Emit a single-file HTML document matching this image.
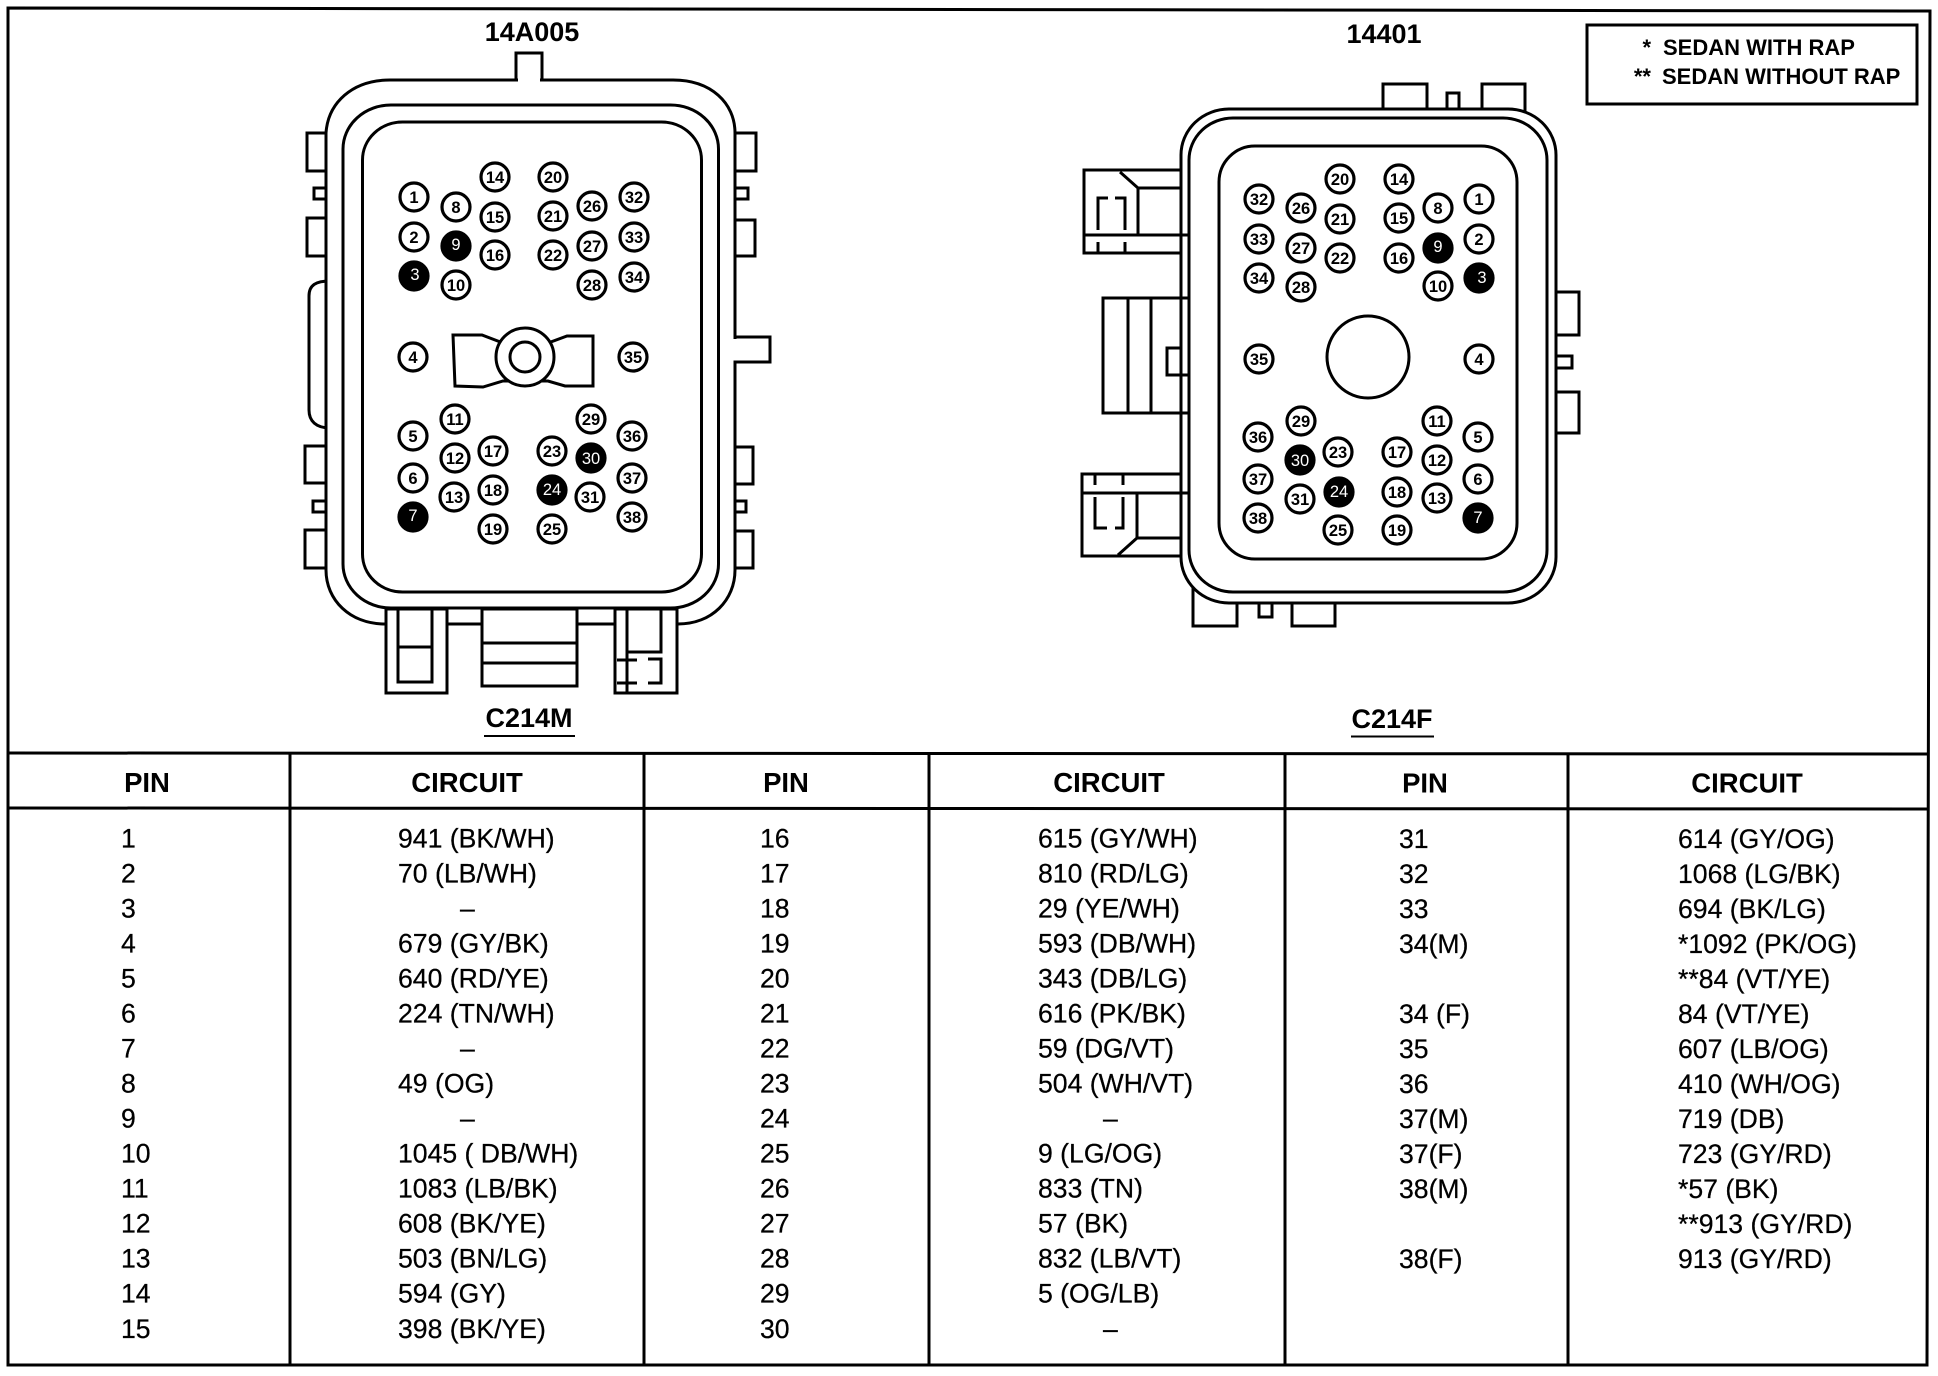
<!DOCTYPE html>
<html><head><meta charset="utf-8"><title>C214M / C214F</title>
<style>
html,body{margin:0;padding:0;background:#fff}
svg{display:block}
text{font-family:"Liberation Sans",sans-serif;fill:#000}
.l{fill:#fff;stroke:#000;stroke-width:3}
.n{fill:none;stroke:#000;stroke-width:3}
.pins circle{fill:#fff;stroke:#000;stroke-width:3.2}
.pins text{font-size:16.5px;font-weight:bold;text-anchor:middle}
.pins .k circle{fill:#000}
.pins .k text{fill:#fff;font-weight:normal}
.t text{font-size:26.6px;stroke:#000;stroke-width:.25}
.h{font-size:27.5px;font-weight:bold;text-anchor:middle}
.ti{font-size:27px;font-weight:bold;text-anchor:middle}
.lg{font-size:22px;font-weight:bold}
</style></head><body>
<svg xmlns="http://www.w3.org/2000/svg" width="1938" height="1376" viewBox="0 0 1938 1376">
<rect width="1938" height="1376" fill="#fff"/>

<!-- frame -->
<path class="n" d="M8 8 L1930 11 L1927 1365 L8 1365 Z"/>
<path class="n" d="M8 753 L1928 754 M8 808 L1928 809"/>
<path class="n" d="M290 753V1365 M644 753V1365 M929 753V1365 M1285 754V1365 M1568 754V1365"/>

<!-- titles -->
<text class="ti" x="532" y="41">14A005</text>
<text class="ti" x="1384" y="43">14401</text>
<text class="ti" x="529" y="727">C214M</text>
<text class="ti" x="1392" y="728">C214F</text>
<path d="M484 736H575M1351 736.500H1434" stroke="#000" stroke-width="2" fill="none"/>

<!-- legend -->
<rect class="n" x="1587" y="25" width="330" height="79"/>
<text class="lg" x="1651" y="55" text-anchor="end">*</text>
<text class="lg" x="1663" y="55">SEDAN WITH RAP</text>
<text class="lg" x="1651" y="84" text-anchor="end">**</text>
<text class="lg" x="1662" y="84">SEDAN WITHOUT RAP</text>

<!-- LEFT CONNECTOR -->
<g>
<rect class="l" x="307" y="133" width="24" height="38"/>
<rect class="l" x="314" y="188" width="15" height="11"/>
<rect class="l" x="307" y="218" width="24" height="38"/>
<path class="l" d="M330 281 C316 281 309 285 309 296 V410 C309 421 316 428 330 428 Z"/>
<rect class="l" x="305" y="446" width="24" height="37"/>
<rect class="l" x="313" y="501" width="15" height="11"/>
<rect class="l" x="305" y="530" width="24" height="38"/>
<rect class="l" x="730" y="133" width="26" height="38"/>
<rect class="l" x="730" y="188" width="18" height="11"/>
<rect class="l" x="730" y="220" width="25" height="36"/>
<path class="l" d="M730 337H770V362H730Z"/>
<rect class="l" x="728" y="447" width="25" height="37"/>
<rect class="l" x="728" y="501" width="18" height="11"/>
<rect class="l" x="728" y="531" width="25" height="37"/>
<rect class="l" x="516" y="53" width="26" height="40"/>
<path class="l" d="M390 80 H673 C711 80 735 103 735 133 V570 C735 600 712 624 678 624 H385 C350 624 326 600 326 570 V133 C328 103 352 80 390 80 Z"/>
<rect fill="#fff" x="518" y="78" width="22" height="5"/>
<rect fill="#fff" x="732" y="339" width="7" height="21.500"/>
<rect class="n" x="343" y="105" width="375.500" height="503" rx="48" ry="44"/>
<rect class="n" x="362.500" y="122" width="339" height="470" rx="40" ry="38"/>
<!-- bottom boxes -->
<path class="l" d="M386 609H447V693H386Z"/>
<path class="l" d="M398 609H432V682H398Z"/>
<path class="n" d="M398 647H432"/>
<path class="l" d="M482 609H577V686H482Z"/>
<path class="n" d="M482 643H577M482 663H577"/>
<path class="l" d="M615 609H677V693H615Z"/>
<path class="n" d="M627 609V693M661 609V652H627"/>
<path class="n" d="M617 660H637M648 659H661V683H648M637 683H617"/>
<!-- center key -->
<path class="l" d="M453 335 H482 L503 343 H548 L567 336 H593 V386 H565 L548 381 H503 L483 387 L455 386 Z"/>
<circle class="l" cx="525" cy="357" r="29"/>
<circle class="n" cx="525" cy="357" r="15"/>
</g>
<g class="pins">
<g><circle cx="414" cy="197" r="14"/><text x="414" y="203">1</text></g>
<g><circle cx="456" cy="207" r="14"/><text x="456" y="213">8</text></g>
<g><circle cx="495" cy="177" r="14"/><text x="495" y="183">14</text></g>
<g><circle cx="495" cy="217" r="14"/><text x="495" y="223">15</text></g>
<g><circle cx="414" cy="237" r="14"/><text x="414" y="243">2</text></g>
<g class="k"><circle cx="456" cy="246" r="14"/><text x="456" y="250">9</text></g>
<g><circle cx="495" cy="255" r="14"/><text x="495" y="261">16</text></g>
<g class="k"><circle cx="414" cy="276" r="14"/><text x="415" y="280">3</text></g>
<g><circle cx="456" cy="285" r="14"/><text x="456" y="291">10</text></g>
<g><circle cx="553" cy="177" r="14"/><text x="553" y="183">20</text></g>
<g><circle cx="553" cy="216" r="14"/><text x="553" y="222">21</text></g>
<g><circle cx="553" cy="255" r="14"/><text x="553" y="261">22</text></g>
<g><circle cx="592" cy="206" r="14"/><text x="592" y="212">26</text></g>
<g><circle cx="592" cy="246" r="14"/><text x="592" y="252">27</text></g>
<g><circle cx="592" cy="285" r="14"/><text x="592" y="291">28</text></g>
<g><circle cx="634" cy="197" r="14"/><text x="634" y="203">32</text></g>
<g><circle cx="634" cy="237" r="14"/><text x="634" y="243">33</text></g>
<g><circle cx="634" cy="277" r="14"/><text x="634" y="283">34</text></g>
<g><circle cx="413" cy="357" r="14"/><text x="413" y="363">4</text></g>
<g><circle cx="633" cy="357" r="14"/><text x="633" y="363">35</text></g>
<g><circle cx="455" cy="419" r="14"/><text x="455" y="425">11</text></g>
<g><circle cx="413" cy="436" r="14"/><text x="413" y="442">5</text></g>
<g><circle cx="455" cy="458" r="14"/><text x="455" y="464">12</text></g>
<g><circle cx="413" cy="478" r="14"/><text x="413" y="484">6</text></g>
<g><circle cx="454" cy="497" r="14"/><text x="454" y="503">13</text></g>
<g class="k"><circle cx="413" cy="517" r="14"/><text x="413" y="521">7</text></g>
<g><circle cx="493" cy="451" r="14"/><text x="493" y="457">17</text></g>
<g><circle cx="493" cy="490" r="14"/><text x="493" y="496">18</text></g>
<g><circle cx="493" cy="529" r="14"/><text x="493" y="535">19</text></g>
<g><circle cx="552" cy="451" r="14"/><text x="552" y="457">23</text></g>
<g class="k"><circle cx="552" cy="490" r="14"/><text x="552" y="495">24</text></g>
<g><circle cx="552" cy="529" r="14"/><text x="552" y="535">25</text></g>
<g><circle cx="591" cy="419" r="14"/><text x="591" y="425">29</text></g>
<g class="k"><circle cx="591" cy="458" r="14"/><text x="591" y="464">30</text></g>
<g><circle cx="590" cy="497" r="14"/><text x="590" y="503">31</text></g>
<g><circle cx="632" cy="436" r="14"/><text x="632" y="442">36</text></g>
<g><circle cx="632" cy="478" r="14"/><text x="632" y="484">37</text></g>
<g><circle cx="632" cy="517" r="14"/><text x="632" y="523">38</text></g>
</g>

<!-- RIGHT CONNECTOR -->
<g>
<rect class="l" x="1383" y="84" width="44" height="30"/>
<rect class="l" x="1447" y="93" width="12" height="20"/>
<rect class="l" x="1482" y="84" width="43" height="30"/>
<rect class="l" x="1550" y="292" width="29" height="43"/>
<rect class="l" x="1550" y="356" width="22" height="12"/>
<rect class="l" x="1550" y="392" width="29" height="41"/>
<rect class="l" x="1193" y="580" width="44" height="46"/>
<rect class="l" x="1259" y="590" width="13" height="27"/>
<rect class="l" x="1292" y="590" width="43" height="36"/>
<!-- upper latch -->
<path class="l" d="M1084 170H1185V253H1084Z"/>
<path class="n" d="M1084 235H1185M1120 172L1138 188V235M1138 188H1185"/>
<path class="n" d="M1098 230V198H1108M1115 198H1125V230M1098 242V253M1125 242V253"/>
<!-- middle latch -->
<path class="l" d="M1103 298H1185V413H1103Z"/>
<path class="n" d="M1128 298V413M1151 298V413"/>
<!-- lower latch -->
<path class="l" d="M1082 474H1185V556H1082Z"/>
<path class="n" d="M1082 493H1185M1137 493V538H1185M1137 538L1118 555"/>
<path class="n" d="M1095 475V485M1123 475V485M1095 497V528H1107M1115 528H1123V497"/>
<rect class="l" x="1181" y="109" width="375" height="494" rx="48" ry="46"/>
<rect class="n" x="1189" y="118" width="358" height="474" rx="44" ry="42"/>
<rect class="n" x="1219" y="146" width="298" height="413" rx="36" ry="36"/>
<circle class="n" cx="1368" cy="357" r="41"/>
<!-- latch edges crossing the shell -->
<path class="n" d="M1181 235H1190M1181 298H1189M1181 413H1189M1181 493H1190"/>
<path class="n" d="M1181 348H1167V375H1189"/>
</g>
<g class="pins">
<g><circle cx="1259" cy="199" r="14"/><text x="1259" y="205">32</text></g>
<g><circle cx="1301" cy="208" r="14"/><text x="1301" y="214">26</text></g>
<g><circle cx="1340" cy="179" r="14"/><text x="1340" y="185">20</text></g>
<g><circle cx="1340" cy="219" r="14"/><text x="1340" y="225">21</text></g>
<g><circle cx="1259" cy="239" r="14"/><text x="1259" y="245">33</text></g>
<g><circle cx="1301" cy="248" r="14"/><text x="1301" y="254">27</text></g>
<g><circle cx="1340" cy="258" r="14"/><text x="1340" y="264">22</text></g>
<g><circle cx="1259" cy="278" r="14"/><text x="1259" y="284">34</text></g>
<g><circle cx="1301" cy="287" r="14"/><text x="1301" y="293">28</text></g>
<g><circle cx="1399" cy="179" r="14"/><text x="1399" y="185">14</text></g>
<g><circle cx="1399" cy="218" r="14"/><text x="1399" y="224">15</text></g>
<g><circle cx="1399" cy="258" r="14"/><text x="1399" y="264">16</text></g>
<g><circle cx="1438" cy="208" r="14"/><text x="1438" y="214">8</text></g>
<g class="k"><circle cx="1438" cy="248" r="14"/><text x="1438" y="252">9</text></g>
<g><circle cx="1438" cy="286" r="14"/><text x="1438" y="292">10</text></g>
<g><circle cx="1479" cy="199" r="14"/><text x="1479" y="205">1</text></g>
<g><circle cx="1479" cy="239" r="14"/><text x="1479" y="245">2</text></g>
<g class="k"><circle cx="1479" cy="278" r="14"/><text x="1482" y="283">3</text></g>
<g><circle cx="1259" cy="359" r="14"/><text x="1259" y="365">35</text></g>
<g><circle cx="1479" cy="359" r="14"/><text x="1479" y="365">4</text></g>
<g><circle cx="1301" cy="421" r="14"/><text x="1301" y="427">29</text></g>
<g><circle cx="1258" cy="437" r="14"/><text x="1258" y="443">36</text></g>
<g><circle cx="1437" cy="421" r="14"/><text x="1437" y="427">11</text></g>
<g><circle cx="1478" cy="437" r="14"/><text x="1478" y="443">5</text></g>
<g class="k"><circle cx="1300" cy="460" r="14"/><text x="1300" y="466">30</text></g>
<g><circle cx="1338" cy="452" r="14"/><text x="1338" y="458">23</text></g>
<g><circle cx="1397" cy="452" r="14"/><text x="1397" y="458">17</text></g>
<g><circle cx="1437" cy="460" r="14"/><text x="1437" y="466">12</text></g>
<g><circle cx="1258" cy="479" r="14"/><text x="1258" y="485">37</text></g>
<g><circle cx="1478" cy="479" r="14"/><text x="1478" y="485">6</text></g>
<g><circle cx="1300" cy="499" r="14"/><text x="1300" y="505">31</text></g>
<g class="k"><circle cx="1339" cy="492" r="14"/><text x="1339" y="497">24</text></g>
<g><circle cx="1397" cy="492" r="14"/><text x="1397" y="498">18</text></g>
<g><circle cx="1437" cy="498" r="14"/><text x="1437" y="504">13</text></g>
<g><circle cx="1258" cy="518" r="14"/><text x="1258" y="524">38</text></g>
<g class="k"><circle cx="1478" cy="518" r="14"/><text x="1478" y="523">7</text></g>
<g><circle cx="1338" cy="530" r="14"/><text x="1338" y="536">25</text></g>
<g><circle cx="1397" cy="530" r="14"/><text x="1397" y="536">19</text></g>
</g>

<!-- table headers -->
<text class="h" x="147" y="792">PIN</text>
<text class="h" x="467" y="792">CIRCUIT</text>
<text class="h" x="786" y="792">PIN</text>
<text class="h" x="1109" y="792">CIRCUIT</text>
<text class="h" x="1425" y="792.500">PIN</text>
<text class="h" x="1747" y="792.500">CIRCUIT</text>

<g class="t" transform="translate(0,-0.5)">
<!-- col 1 pins -->
<text x="121" y="848">1</text><text x="121" y="883">2</text><text x="121" y="918">3</text><text x="121" y="953">4</text><text x="121" y="988">5</text><text x="121" y="1023">6</text><text x="121" y="1058">7</text><text x="121" y="1093">8</text><text x="121" y="1128">9</text><text x="121" y="1163">10</text><text x="121" y="1198">11</text><text x="121" y="1233">12</text><text x="121" y="1268">13</text><text x="121" y="1303">14</text><text x="121" y="1338.500">15</text>
<!-- col 1 circuits -->
<text x="398" y="848">941 (BK/WH)</text><text x="398" y="883">70 (LB/WH)</text><text x="460" y="918">–</text><text x="398" y="953">679 (GY/BK)</text><text x="398" y="988">640 (RD/YE)</text><text x="398" y="1023">224 (TN/WH)</text><text x="460" y="1058">–</text><text x="398" y="1093">49 (OG)</text><text x="460" y="1128">–</text><text x="398" y="1163">1045 ( DB/WH)</text><text x="398" y="1198">1083 (LB/BK)</text><text x="398" y="1233">608 (BK/YE)</text><text x="398" y="1268">503 (BN/LG)</text><text x="398" y="1303">594 (GY)</text><text x="398" y="1338.500">398 (BK/YE)</text>
<!-- col 2 pins -->
<text x="760" y="848">16</text><text x="760" y="883">17</text><text x="760" y="918">18</text><text x="760" y="953">19</text><text x="760" y="988">20</text><text x="760" y="1023">21</text><text x="760" y="1058">22</text><text x="760" y="1093">23</text><text x="760" y="1128">24</text><text x="760" y="1163">25</text><text x="760" y="1198">26</text><text x="760" y="1233">27</text><text x="760" y="1268">28</text><text x="760" y="1303">29</text><text x="760" y="1338.500">30</text>
<!-- col 2 circuits -->
<text x="1038" y="848">615 (GY/WH)</text><text x="1038" y="883">810 (RD/LG)</text><text x="1038" y="918">29 (YE/WH)</text><text x="1038" y="953">593 (DB/WH)</text><text x="1038" y="988">343 (DB/LG)</text><text x="1038" y="1023">616 (PK/BK)</text><text x="1038" y="1058">59 (DG/VT)</text><text x="1038" y="1093">504 (WH/VT)</text><text x="1103" y="1128">–</text><text x="1038" y="1163">9 (LG/OG)</text><text x="1038" y="1198">833 (TN)</text><text x="1038" y="1233">57 (BK)</text><text x="1038" y="1268">832 (LB/VT)</text><text x="1038" y="1303">5 (OG/LB)</text><text x="1103" y="1338.500">–</text>
<!-- col 3 pins -->
<text x="1399" y="848.500">31</text><text x="1399" y="883.500">32</text><text x="1399" y="918.500">33</text><text x="1399" y="953.500">34(M)</text><text x="1399" y="1023.500">34 (F)</text><text x="1399" y="1058.500">35</text><text x="1399" y="1093.500">36</text><text x="1399" y="1128.500">37(M)</text><text x="1399" y="1163.500">37(F)</text><text x="1399" y="1198.500">38(M)</text><text x="1399" y="1268.500">38(F)</text>
<!-- col 3 circuits -->
<text x="1678" y="848.500">614 (GY/OG)</text><text x="1678" y="883.500">1068 (LG/BK)</text><text x="1678" y="918.500">694 (BK/LG)</text><text x="1678" y="953.500">*1092 (PK/OG)</text><text x="1678" y="988.500">**84 (VT/YE)</text><text x="1678" y="1023.500">84 (VT/YE)</text><text x="1678" y="1058.500">607 (LB/OG)</text><text x="1678" y="1093.500">410 (WH/OG)</text><text x="1678" y="1128.500">719 (DB)</text><text x="1678" y="1163.500">723 (GY/RD)</text><text x="1678" y="1198.500">*57 (BK)</text><text x="1678" y="1233.500">**913 (GY/RD)</text><text x="1678" y="1268.500">913 (GY/RD)</text>
</g>
</svg>
</body></html>
